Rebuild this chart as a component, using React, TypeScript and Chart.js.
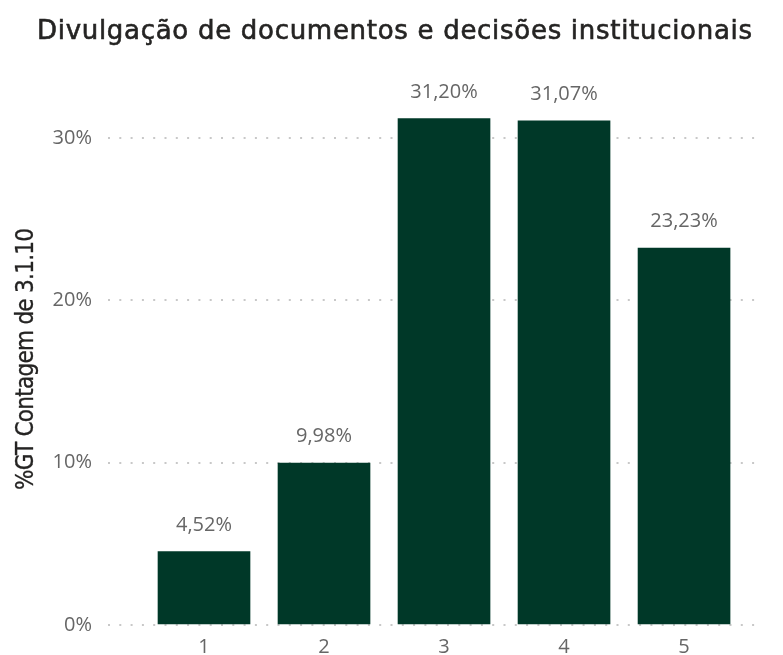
import React, { useEffect, useRef } from "react";
import { Chart, registerables } from "chart.js";

Chart.register(...registerables);

const categories = [1, 2, 3, 4, 5];
const shares = [4.52, 9.98, 31.2, 31.07, 23.23];
const yTicks = [0, 10, 20, 30];

const titleText = "Divulgação de documentos e decisões institucionais";
const yTitleText = "%GT Contagem de 3.1.10";

const barColor = "#003828";
const labelColor = "#666666";
const darkText = "#252423";
const labelFont = "'Open Sans', 'Noto Sans', sans-serif";
const titleFont = "'DejaVu Sans', sans-serif";
const axisTitleFont = "'DejaVu Sans Condensed', 'Liberation Sans Narrow', sans-serif";

const fmt = (v: number) => v.toFixed(2).replace(".", ",") + "%";

// Draws text spread out to a given total width, with an optional outline for extra weight.
function spreadText(
  ctx: CanvasRenderingContext2D,
  text: string,
  x: number,
  y: number,
  width: number,
  outline = 0
) {
  (ctx as any).letterSpacing = "0px";
  const natural = ctx.measureText(text).width;
  const ls = (width - natural) / Math.max(1, text.length - 1);
  (ctx as any).letterSpacing = ls + "px";
  ctx.textAlign = "left";
  ctx.fillText(text, x - width / 2, y);
  if (outline > 0) {
    ctx.strokeStyle = ctx.fillStyle as string;
    ctx.lineWidth = outline;
    ctx.strokeText(text, x - width / 2, y);
  }
  (ctx as any).letterSpacing = "0px";
}

const headings = {
  id: "headings",
  afterDraw(chart: any) {
    const { ctx } = chart;
    ctx.save();
    ctx.fillStyle = darkText;
    ctx.textBaseline = "alphabetic";
    ctx.font = `26px ${titleFont}`;
    spreadText(ctx, titleText, 394.5, 39, 715, 0.6);
    ctx.translate(33, 359);
    ctx.rotate(-Math.PI / 2);
    ctx.font = `24px ${axisTitleFont}`;
    spreadText(ctx, yTitleText, 0, 0, 262, 0.3);
    ctx.restore();
  },
};

const valueLabels = {
  id: "valueLabels",
  afterDatasetsDraw(chart: any) {
    const { ctx } = chart;
    const meta = chart.getDatasetMeta(0);
    ctx.save();
    ctx.fillStyle = labelColor;
    ctx.font = `20px ${labelFont}`;
    ctx.textAlign = "center";
    ctx.textBaseline = "alphabetic";
    meta.data.forEach((bar: any, i: number) => {
      ctx.fillText(fmt(shares[i]), bar.x, bar.y - 21);
    });
    ctx.restore();
  },
};

export default function App() {
  const ref = useRef<HTMLCanvasElement | null>(null);

  useEffect(() => {
    if (!ref.current) return;
    const chart = new Chart(ref.current, {
      type: "bar",
      data: {
        datasets: [
          {
            data: categories.map((c, i) => ({ x: c, y: shares[i] })),
            backgroundColor: barColor,
            barThickness: 92,
          },
        ],
      },
      options: {
        animation: false,
        responsive: false,
        maintainAspectRatio: false,
        layout: { padding: { left: 0, right: 23, top: 57, bottom: 0 } },
        plugins: {
          legend: { display: false },
          tooltip: { enabled: false },
          title: { display: false },
        },
        scales: {
          x: {
            type: "linear",
            offset: false,
            min: 0.2,
            max: 5.633,
            grid: { display: false },
            border: { display: false },
            afterBuildTicks: (s: any) => {
              s.ticks = categories.map((v) => ({ value: v }));
            },
            afterFit: (s: any) => {
              s.height = 30;
            },
            ticks: {
              padding: 2,
              color: labelColor,
              font: { family: labelFont, size: 20 },
              callback: (v: any) => String(v),
            },
          },
          y: {
            min: 0,
            max: 35,
            afterBuildTicks: (s: any) => {
              s.ticks = yTicks.map((v) => ({ value: v }));
            },
            afterFit: (s: any) => {
              s.width = 108;
            },
            border: { display: false, dash: [2, 9.3] },
            grid: {
              color: "#c8c8c8",
              lineWidth: 2,
              drawTicks: false,
            },
            ticks: {
              padding: 16,
              color: labelColor,
              font: { family: labelFont, size: 20 },
              callback: (v: any) => v + "%",
            },
          },
        },
      },
      plugins: [valueLabels, headings],
    } as any);
    return () => chart.destroy();
  }, []);

  return (
    <div style={{ position: "fixed", left: 0, top: 0, width: 783, height: 655, background: "#fff" }}>
      <canvas ref={ref} width={783} height={655} />
    </div>
  );
}
